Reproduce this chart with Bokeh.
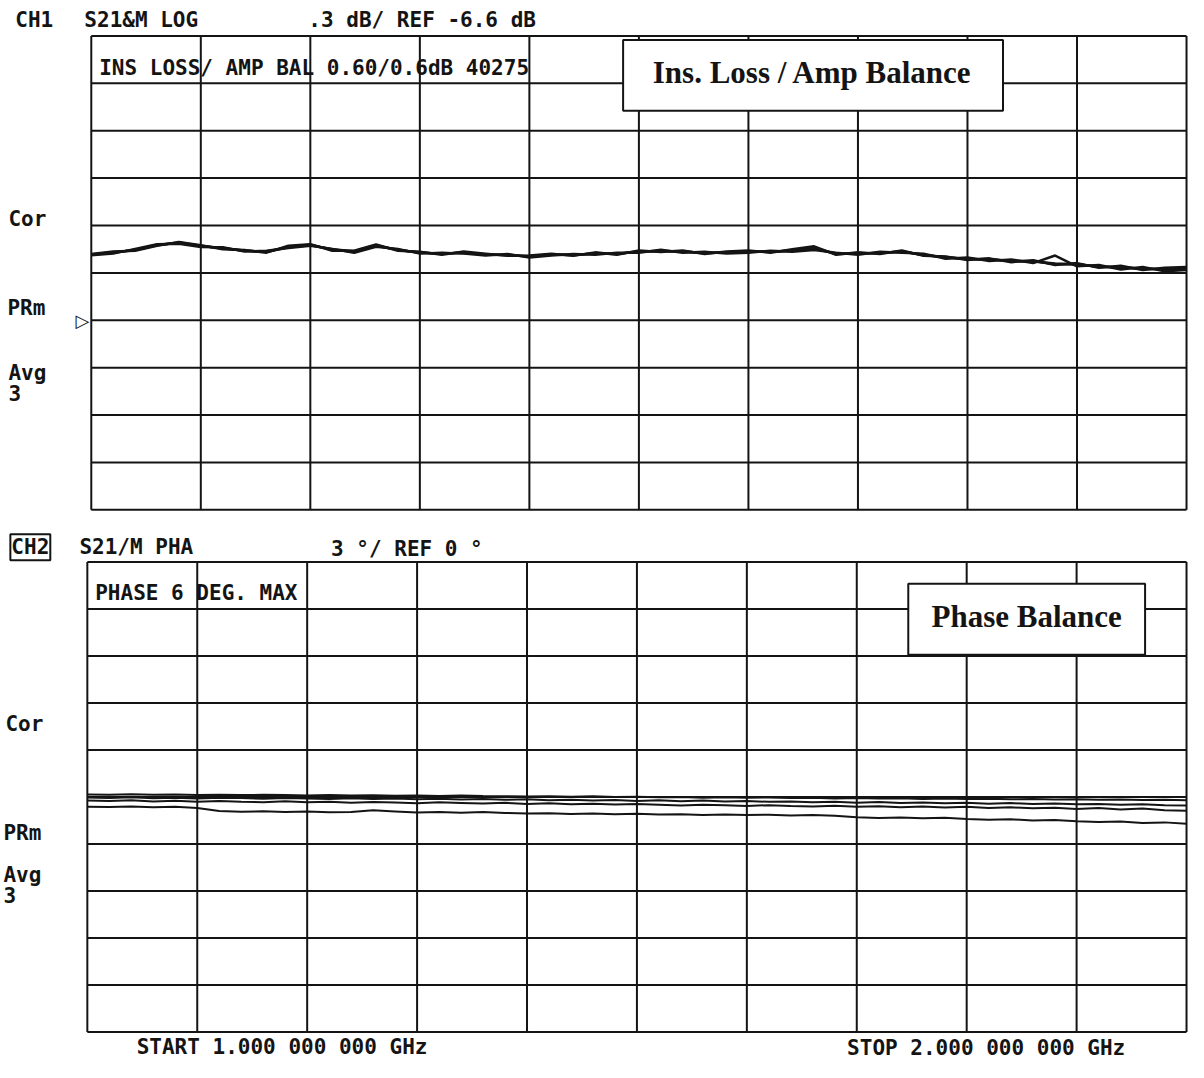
from bokeh.plotting import figure
from bokeh.layouts import column
from bokeh.models import Range1d, Label, BoxAnnotation
from bokeh.embed import file_html
from bokeh.resources import INLINE

# ---------------- data ----------------
FREQ_GHZ = [1.00, 1.02, 1.04, 1.06, 1.08, 1.10, 1.12, 1.14, 1.16, 1.18,
            1.20, 1.22, 1.24, 1.26, 1.28, 1.30, 1.32, 1.34, 1.36, 1.38,
            1.40, 1.42, 1.44, 1.46, 1.48, 1.50, 1.52, 1.54, 1.56, 1.58,
            1.60, 1.62, 1.64, 1.66, 1.68, 1.70, 1.72, 1.74, 1.76, 1.78,
            1.80, 1.82, 1.84, 1.86, 1.88, 1.90, 1.92, 1.94, 1.96, 1.98,
            2.00]
FREQ_TICKS = [1.0, 1.1, 1.2, 1.3, 1.4, 1.5, 1.6, 1.7, 1.8, 1.9, 2.0]
DB_TICKS = [-7.8, -7.5, -7.2, -6.9, -6.6, -6.3, -6.0, -5.7, -5.4, -5.1, -4.8]
DEG_TICKS = [-15, -12, -9, -6, -3, 0, 3, 6, 9, 12, 15]
DB_REF = -6.6

AMP_TRACE_A = [-6.185, -6.172, -6.153, -6.122, -6.110, -6.130, -6.143, -6.160, -6.166, -6.135,
               -6.122, -6.153, -6.166, -6.128, -6.153, -6.172, -6.178, -6.172, -6.185, -6.185,
               -6.197, -6.185, -6.185, -6.178, -6.178, -6.166, -6.160, -6.166, -6.172, -6.172,
               -6.166, -6.166, -6.160, -6.147, -6.178, -6.178, -6.172, -6.166, -6.185, -6.203,
               -6.210, -6.216, -6.222, -6.228, -6.241, -6.247, -6.259, -6.266, -6.272, -6.278,
               -6.272]
AMP_TRACE_B = [-6.180, -6.165, -6.160, -6.128, -6.104, -6.125, -6.150, -6.155, -6.172, -6.128,
               -6.118, -6.160, -6.160, -6.120, -6.160, -6.166, -6.185, -6.165, -6.178, -6.192,
               -6.190, -6.178, -6.192, -6.170, -6.185, -6.158, -6.168, -6.158, -6.180, -6.165,
               -6.158, -6.172, -6.150, -6.132, -6.185, -6.170, -6.180, -6.158, -6.192, -6.196,
               -6.218, -6.208, -6.232, -6.220, -6.250, -6.238, -6.268, -6.255, -6.282, -6.268,
               -6.262]
AMP_TRACE_C = [-6.188, -6.178, -6.148, -6.118, -6.115, -6.136, -6.138, -6.165, -6.160, -6.142,
               -6.128, -6.148, -6.172, -6.134, -6.148, -6.178, -6.172, -6.178, -6.190, -6.180,
               -6.203, -6.190, -6.180, -6.185, -6.172, -6.172, -6.153, -6.172, -6.166, -6.178,
               -6.172, -6.160, -6.166, -6.155, -6.172, -6.185, -6.166, -6.172, -6.178, -6.210,
               -6.203, -6.225, -6.215, -6.238, -6.190, -6.258, -6.250, -6.278, -6.262, -6.290,
               -6.282]
AMP_TRACE_D = [-6.183, -6.170, -6.156, -6.125, -6.108, -6.128, -6.146, -6.158, -6.168, -6.138,
               -6.125, -6.150, -6.163, -6.125, -6.156, -6.170, -6.180, -6.170, -6.183, -6.188,
               -6.195, -6.183, -6.188, -6.175, -6.180, -6.163, -6.163, -6.163, -6.175, -6.170,
               -6.163, -6.168, -6.156, -6.140, -6.180, -6.175, -6.175, -6.163, -6.188, -6.200,
               -6.214, -6.212, -6.226, -6.224, -6.245, -6.243, -6.262, -6.262, -6.276, -6.274,
               -6.268]

PHASE_TRACE_1 = [0.16, 0.15, 0.17, 0.14, 0.16, 0.13, 0.15, 0.12, 0.14, 0.13,
                 0.10, 0.12, 0.09, 0.11, 0.08, 0.10, 0.07, 0.09, 0.06, 0.05,
                 0.03, 0.05, 0.02, 0.04, 0.00, 0.02, -0.02, 0.00, -0.04, -0.02,
                 -0.05, -0.03, -0.07, -0.05, -0.09, -0.07, -0.10, -0.08, -0.12, -0.10,
                 -0.13, -0.11, -0.15, -0.13, -0.16, -0.14, -0.18, -0.16, -0.19, -0.17,
                 -0.20]
PHASE_TRACE_2 = [-0.03, -0.06, -0.02, -0.08, -0.05, -0.10, -0.04, -0.07, -0.11, -0.06,
                 -0.09, -0.13, -0.08, -0.12, -0.10, -0.15, -0.11, -0.16, -0.13, -0.18,
                 -0.15, -0.20, -0.17, -0.22, -0.19, -0.25, -0.21, -0.27, -0.23, -0.29,
                 -0.26, -0.31, -0.28, -0.34, -0.30, -0.36, -0.32, -0.38, -0.35, -0.40,
                 -0.37, -0.43, -0.39, -0.45, -0.42, -0.47, -0.44, -0.50, -0.46, -0.52,
                 -0.55]
PHASE_TRACE_3 = [-0.22, -0.25, -0.20, -0.28, -0.24, -0.30, -0.26, -0.31, -0.33, -0.27,
                 -0.34, -0.30, -0.36, -0.32, -0.35, -0.40, -0.34, -0.38, -0.42, -0.37,
                 -0.44, -0.40, -0.46, -0.43, -0.48, -0.45, -0.50, -0.55, -0.49, -0.53,
                 -0.58, -0.52, -0.57, -0.61, -0.56, -0.62, -0.59, -0.65, -0.60, -0.67,
                 -0.63, -0.70, -0.66, -0.72, -0.69, -0.76, -0.71, -0.80, -0.74, -0.84,
                 -0.88]
PHASE_TRACE_4 = [-0.62, -0.64, -0.60, -0.66, -0.63, -0.70, -0.90, -0.94, -0.91, -0.96,
                 -0.93, -0.97, -0.95, -0.85, -0.92, -0.99, -0.95, -1.00, -0.96, -1.02,
                 -1.05, -1.03, -1.08, -1.05, -1.10, -1.07, -1.12, -1.10, -1.15, -1.12,
                 -1.15, -1.13, -1.18, -1.15, -1.20, -1.30, -1.34, -1.31, -1.36, -1.33,
                 -1.40, -1.45, -1.42, -1.50, -1.47, -1.55, -1.60, -1.56, -1.66, -1.62,
                 -1.70]

# ---------------- layout / style ----------------
INK = "#141414"
MONO = "DejaVu Sans Mono"
SERIF = "Liberation Serif"
PAGE_W, PAGE_H = 1188, 1062
SX, SY = PAGE_W / 1204.0, PAGE_H / 1078.0   # reference px -> canvas px


def P(x, y):
    return x * SX, y * SY


TOP_Y0, TOP_H = 0, 532
BOT_Y0, BOT_H = 532, PAGE_H - 532
# grid rectangles in reference pixels (left, right, top, bottom)
TOP_GRID = (92, 1202, 36, 517)
BOT_GRID = (88, 1202, 570, 1047)


def make_panel(y0, h, grid, yticks):
    l, r, t, b = grid[0] * SX, grid[1] * SX, grid[2] * SY, grid[3] * SY
    x_lo, x_hi = FREQ_TICKS[0], FREQ_TICKS[-1]
    y_top, y_bot = yticks[-1], yticks[0]

    def fx(px):
        return x_lo + (px - l) / (r - l) * (x_hi - x_lo)

    def fy(py):
        return y_top - (py - t) / (b - t) * (y_top - y_bot)

    p = figure(width=PAGE_W, height=h,
               x_range=Range1d(fx(0), fx(PAGE_W)),
               y_range=Range1d(fy(y0 + h), fy(y0)),
               x_axis_type=None, y_axis_type=None,
               toolbar_location=None, output_backend="svg",
               min_border=0, min_border_left=0, min_border_right=0,
               min_border_top=0, min_border_bottom=0)
    p.outline_line_color = None
    p.background_fill_color = "white"
    p.border_fill_color = "white"
    p.xgrid.visible = False
    p.ygrid.visible = False
    n = len(FREQ_TICKS)
    p.segment(x0=FREQ_TICKS, y0=[y_bot] * n, x1=FREQ_TICKS, y1=[y_top] * n,
              line_color=INK, line_width=2)
    m = len(yticks)
    p.segment(x0=[x_lo] * m, y0=yticks, x1=[x_hi] * m, y1=yticks,
              line_color=INK, line_width=2)

    def text(rx, ry, s, size="21px", font=MONO, style="bold", align="left", **kw):
        cx, cy = P(rx, ry)
        p.add_layout(Label(x=fx(cx), y=fy(cy), text=s, text_font=font,
                           text_font_size=size, text_font_style=style,
                           text_color=INK, text_align=align,
                           text_baseline="middle", **kw))

    def box(rl, rr, rt, rb):
        (cl, ct), (cr, cb) = P(rl, rt), P(rr, rb)
        p.add_layout(BoxAnnotation(left=fx(cl), right=fx(cr), top=fy(ct), bottom=fy(cb),
                                   fill_color="white", fill_alpha=1.0,
                                   line_color=INK, line_width=2, line_alpha=1.0))
    return p, fx, fy, text, box


# ---------- top panel: insertion loss / amplitude balance ----------
p1, tx, ty, ttext, tbox = make_panel(TOP_Y0, TOP_H, TOP_GRID, DB_TICKS)
for tr in (AMP_TRACE_A, AMP_TRACE_B, AMP_TRACE_C, AMP_TRACE_D):
    p1.line(FREQ_GHZ, tr, line_color=INK, line_width=2.5)

ttext(15, 20, "CH1")
ttext(85, 20, "S21&M LOG")
ttext(312, 20, ".3 dB/ REF -6.6 dB")
ttext(100, 69, "INS LOSS/ AMP BAL 0.60/0.6dB 40275")
ttext(8, 222, "Cor")
ttext(7, 312, "PRm")
ttext(8, 378, "Avg")
ttext(8, 398, "3")
p1.add_layout(Label(x=tx(P(76, 0)[0]), y=DB_REF, text="\u25b7", text_font="DejaVu Sans",
                    text_font_size="18px", text_font_style="bold", text_color=INK,
                    text_align="left", text_baseline="middle"))
tbox(631, 1016, 40, 112)
ttext(823, 73, "Ins. Loss / Amp Balance", size="31px", font=SERIF, align="center")

# ---------- bottom panel: phase balance ----------
p2, bx, by, btext, bbox = make_panel(BOT_Y0, BOT_H, BOT_GRID, DEG_TICKS)
for tr in (PHASE_TRACE_1, PHASE_TRACE_2, PHASE_TRACE_3, PHASE_TRACE_4):
    p2.line(FREQ_GHZ, tr, line_color=INK, line_width=2)

btext(10, 555, "CH2", border_line_color=INK, border_line_width=2, padding=1)
btext(80, 555, "S21/M PHA")
btext(335, 557, "3 \u00b0/ REF 0 \u00b0")
btext(96, 601, "PHASE 6 DEG. MAX")
btext(5, 734, "Cor")
btext(3, 845, "PRm")
btext(3, 888, "Avg")
btext(3, 908, "3")
btext(138, 1062, "START 1.000 000 000 GHz")
btext(858, 1063, "STOP 2.000 000 000 GHz")
bbox(920, 1160, 592, 664)
btext(1040, 625, "Phase Balance", size="31px", font=SERIF, align="center")

layout = column(p1, p2, spacing=0)
open("out.html", "w").write(file_html(layout, INLINE))
